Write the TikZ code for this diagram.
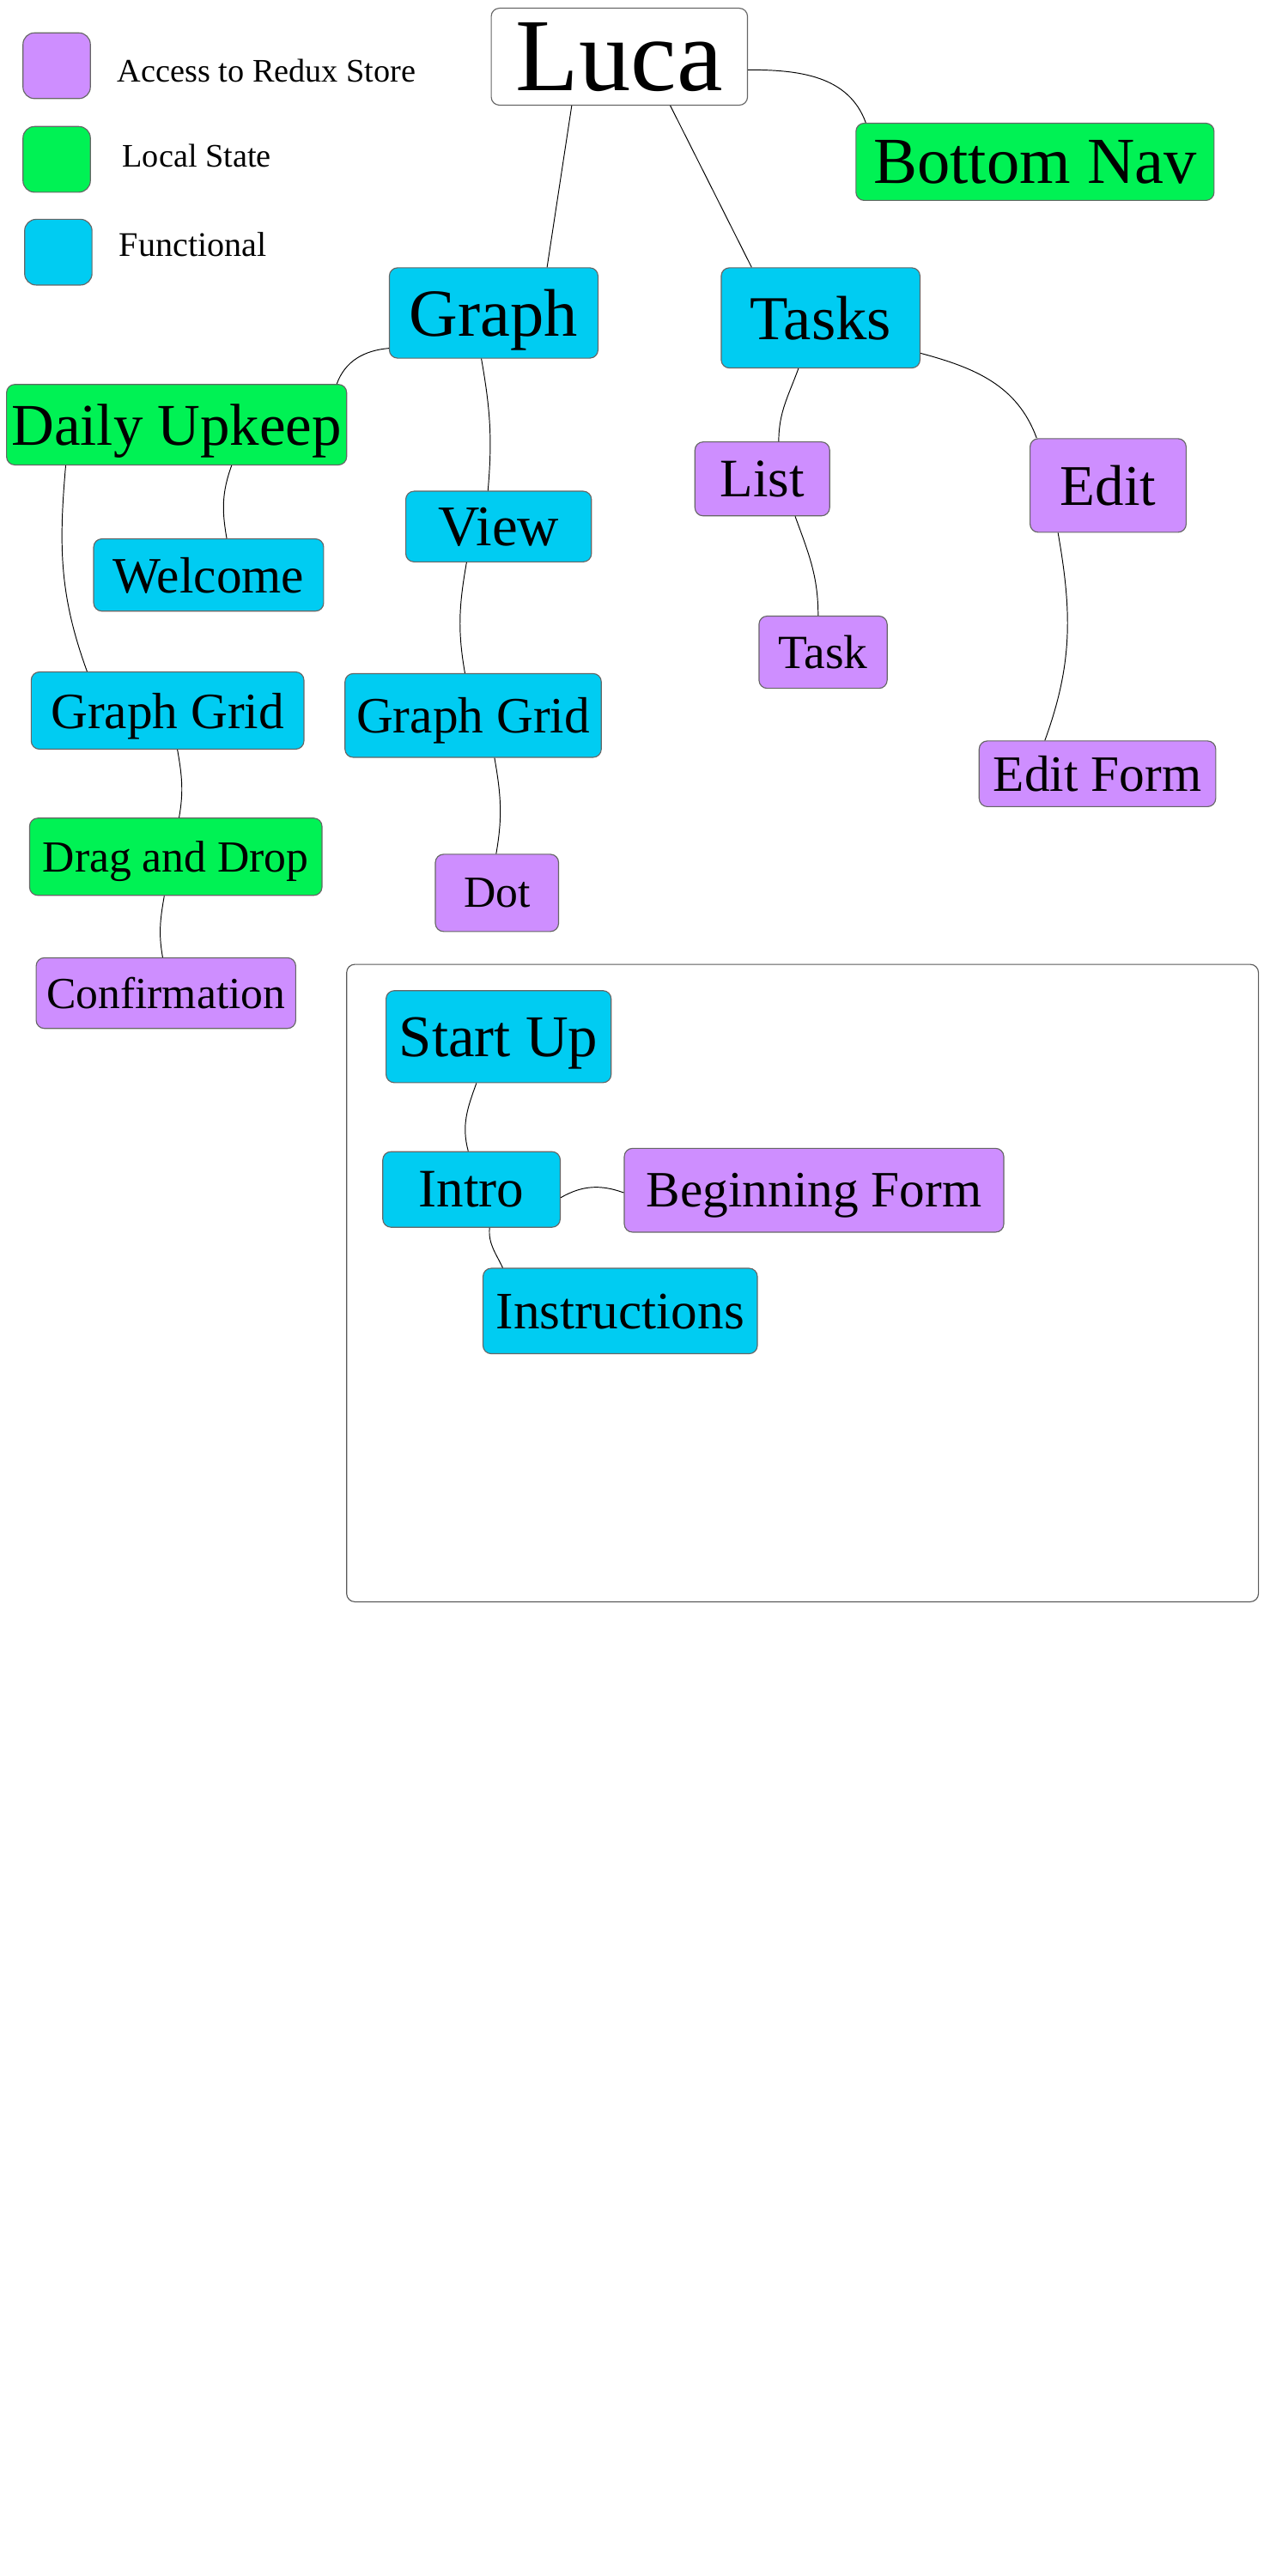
\documentclass[tikz,border=0pt]{standalone}
\usepackage{fontspec}
\setmainfont{Liberation Serif}
\usepackage{tikz}
\definecolor{reduxcol}{RGB}{206,142,255}
\definecolor{localcol}{RGB}{0,242,84}
\definecolor{funccol}{RGB}{0,204,242}
\def\fsz#1{\fontsize{#1}{#1}\selectfont}

\begin{document}
\begin{tikzpicture}
[x=1pt,y=1pt,
box/.style={draw=black!60,rounded corners=5pt,line width=0.6pt,inner sep=0pt,text depth=0pt},
wh/.style 2 args={minimum width=#1pt,minimum height=#2pt},
redux/.style={box,fill=reduxcol},
local/.style={box,fill=localcol},
func/.style={box,fill=funccol},
key/.style={box,rounded corners=7pt,wh={41}{40}},
link/.style={black,line width=0.5pt},]

\useasboundingbox (0,0) rectangle (784,-1568);

%Legend
\node (kr) at (34.5,-40)[redux,key] {};
\node (kl) at (34.5,-97)[local,key] {};
\node (kf) at (35.5,-153.5)[func,key] {};
\node (tr) at (68,-43)[anchor=west,font=\fsz{20}] {Access to Redux Store};
\node (tl) at (71,-95)[anchor=west,font=\fsz{20}] {Local State};
\node (tf) at (69,-149)[anchor=west,font=\fsz{21}] {Functional};

%Main tree
\node (luca) at (377,-34.5)[box,fill=white,wh={156}{59},font=\fsz{63}] {Luca};
\node (bnav) at (630,-98.5)[local,wh={218}{47},font=\fsz{40}] {Bottom Nav};
\node (graph) at (300.5,-190.5)[func,wh={127}{55},font=\fsz{41}] {Graph};
\node (tasks) at (499.5,-193.5)[func,wh={121}{61},font=\fsz{38}] {Tasks};
\node (daily) at (107.5,-258.5)[local,wh={207}{49},font=\fsz{36}] {Daily Upkeep};
\node (list) at (464,-291.5)[redux,wh={82}{45},font=\fsz{33}] {List};
\node (edit) at (674.5,-295.5)[redux,wh={95}{57},font=\fsz{35}] {Edit};
\node (view) at (303.5,-320.5)[func,wh={113}{43},font=\fsz{35}] {View};
\node (welcome) at (127,-350)[func,wh={140}{44},font=\fsz{31}] {Welcome};
\node (task) at (501,-397)[redux,wh={78}{44},font=\fsz{29}] {Task};
\node (gridl) at (102,-432.5)[func,wh={166}{47},font=\fsz{31}] {Graph Grid};
\node (gridm) at (288,-435.5)[func,wh={156}{51},font=\fsz{31}] {Graph Grid};
\node (eform) at (668,-471)[redux,wh={144}{40},font=\fsz{31}] {Edit Form};
\node (drag) at (107,-521.5)[local,wh={178}{47},font=\fsz{27}] {Drag and Drop};
\node (dot) at (302.5,-543.5)[redux,wh={75}{47},font=\fsz{27}] {Dot};
\node (conf) at (101,-604.5)[redux,wh={158}{43},font=\fsz{27}] {Confirmation};

%Start up frame
\draw[draw=black!65,line width=0.6pt,rounded corners=5pt] (211,-587) rectangle (766,-975);
\node (start) at (303.5,-631)[func,wh={137}{56},font=\fsz{36}] {Start Up};
\node (intro) at (287,-724)[func,wh={108}{46},font=\fsz{33}] {Intro};
\node (bform) at (495.5,-724.5)[redux,wh={231}{51},font=\fsz{31}] {Beginning Form};
\node (instr) at (377.5,-798)[func,wh={167}{52},font=\fsz{32}] {Instructions};

%Connectors
\draw[link] ([xshift=-29pt]luca.south) -- ([xshift=32.5pt]graph.north);
\draw[link] ([xshift=31pt]luca.south) -- ([xshift=-42pt]tasks.north);
\draw[link] ([yshift=-8pt]luca.east) to[out=0,in=110] ([xshift=-103pt]bnav.north);
\draw[link] ([yshift=-21.5pt]graph.west) to[out=185,in=70] ([xshift=97.5pt]daily.north);
\draw[link] ([xshift=-7.5pt]graph.south) to[out=-80,in=85] ([xshift=-6.5pt]view.north);
\draw[link] ([xshift=-13.5pt]tasks.south) to[out=-110,in=90] ([xshift=10pt]list.north);
\draw[link] ([yshift=-21.5pt]tasks.east) to[out=-15,in=110] ([xshift=-43.5pt]edit.north);
\draw[link] ([xshift=20pt]list.south) to[out=-70,in=90] ([xshift=-3pt]task.north);
\draw[link] ([xshift=-30.5pt]edit.south) to[out=-80,in=70] ([xshift=-32pt]eform.north);
\draw[link] ([xshift=33.5pt]daily.south) to[out=250,in=100] ([xshift=11pt]welcome.north);
\draw[link] ([xshift=-67.5pt]daily.south) to[out=-95,in=110] ([xshift=-49pt]gridl.north);
\draw[link] ([xshift=-19.5pt]view.south) to[out=-100,in=100] ([xshift=-5pt]gridm.north);
\draw[link] ([xshift=6pt]gridl.south) to[out=-80,in=80] ([xshift=2pt]drag.north);
\draw[link] ([xshift=13pt]gridm.south) to[out=-80,in=80] ([xshift=-0.5pt]dot.north);
\draw[link] ([xshift=-7pt]drag.south) to[out=-100,in=100] ([xshift=-2pt]conf.north);
\draw[link] ([xshift=-13.5pt]start.south) to[out=-110,in=105] ([xshift=-2pt]intro.north);
\draw[link] ([yshift=-5pt]intro.east) to[out=30,in=160] ([yshift=-1.5pt]bform.west);
\draw[link] ([xshift=11pt]intro.south) to[out=-95,in=115] ([xshift=-71.5pt]instr.north);

\end{tikzpicture}
\end{document}
